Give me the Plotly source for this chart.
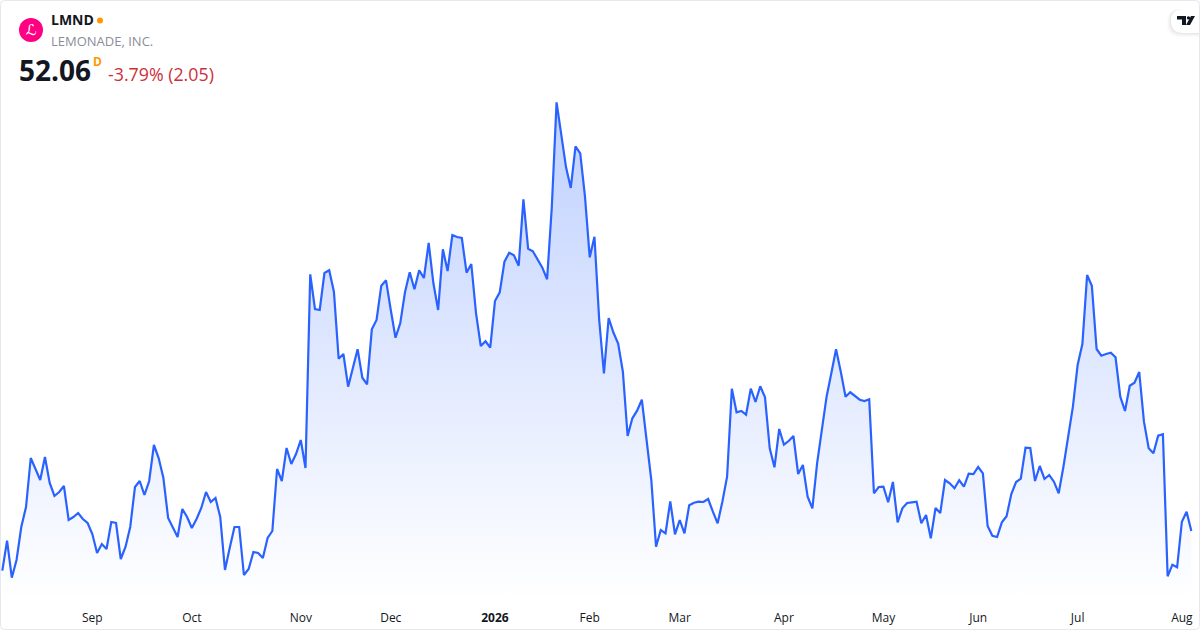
"""LMND daily close, one year, TradingView style area widget."""
import plotly.graph_objects as go

WIDTH = 1200
HEIGHT = 630
AXIS_PX = 600  # pixel row of the bottom of the plot area

prices = [
    48.09, 51.09, 47.39, 49.16, 52.46, 54.46, 59.36, 58.26, 57.16, 59.46,
    56.86, 55.56, 55.96, 56.56, 53.16, 53.46, 53.86, 53.26, 52.86, 51.76,
    49.86, 50.76, 50.26, 52.96, 52.86, 49.26, 50.46, 52.46, 56.46, 57.06,
    55.66, 57.06, 60.66, 59.36, 57.36, 53.36, 52.46, 51.46, 54.26, 53.46,
    52.36, 53.26, 54.36, 55.96, 54.96, 55.36, 53.46, 48.16, 50.36, 52.46,
    52.46, 47.66, 48.26, 49.96, 49.86, 49.36, 51.36, 52.06, 58.26, 57.06,
    60.36, 58.76, 59.76, 61.16, 58.36, 77.73, 74.26, 74.16, 77.86, 78.13,
    75.99, 69.29, 69.76, 66.49, 68.36, 70.23, 67.39, 66.73, 72.23, 73.16,
    76.59, 77.13, 74.16, 71.39, 72.83, 75.93, 77.93, 76.23, 78.13, 77.36,
    80.86, 76.83, 74.16, 80.23, 78.06, 81.66, 81.46, 81.36, 77.89, 78.76,
    73.83, 70.56, 71.03, 70.39, 75.06, 75.93, 78.99, 79.89, 79.63, 78.59,
    85.23, 80.29, 80.03, 79.16, 78.39, 77.23, 84.49, 94.93, 91.66, 88.43,
    86.36, 90.53, 89.83, 85.49, 79.43, 81.49, 73.16, 67.81, 73.36, 71.91,
    70.81, 67.99, 61.56, 63.33, 64.09, 65.19, 61.16, 57.16, 50.49, 52.16,
    51.83, 55.03, 51.73, 53.16, 51.83, 54.63, 54.89, 54.99, 54.96, 55.26,
    53.99, 52.83, 54.99, 57.49, 66.29, 63.93, 64.06, 63.69, 66.29, 64.96,
    66.53, 65.43, 60.33, 58.43, 62.26, 60.69, 61.06, 61.56, 57.76, 58.66,
    55.49, 54.33, 58.83, 62.33, 65.49, 67.83, 70.23, 67.99, 65.49, 65.93,
    65.56, 65.19, 65.06, 65.23, 55.83, 56.46, 56.49, 54.93, 56.96, 52.93,
    54.33, 54.86, 54.93, 54.99, 52.83, 53.66, 51.33, 54.36, 53.86, 57.16,
    56.83, 56.33, 57.13, 56.49, 57.79, 57.76, 58.46, 57.83, 52.56, 51.59,
    51.46, 52.93, 53.53, 55.76, 56.96, 57.29, 60.39, 60.36, 57.06, 58.56,
    57.26, 57.66, 56.99, 55.83, 58.49, 61.49, 64.49, 68.66, 70.76, 77.66,
    76.59, 70.26, 69.59, 69.76, 69.89, 69.43, 65.49, 64.06, 66.59, 66.89,
    67.96, 62.99, 60.33, 59.83, 61.59, 61.73, 47.53, 48.69, 48.43, 52.99,
    53.99, 52.06,
]
sessions = list(range(len(prices)))

tick_sessions = [19, 40, 63, 82, 104, 124, 143, 165, 186, 206, 227, 249]
tick_labels = ["Sep", "Oct", "Nov", "Dec", "<b>2026</b>", "Feb", "Mar", "Apr",
               "May", "Jun", "Jul", "Aug"]

LINE = "#2962ff"
FONT = "Open Sans"


def fx(x):
    return x / WIDTH


def fy(y):
    # pixel row from the top -> paper fraction of the plot area
    return (AXIS_PX - y) / AXIS_PX


def p(x, y):
    return f"{fx(x)},{fy(y)}"


def path(points):
    return "M " + " L ".join(p(x, y) for x, y in points) + " Z"


def pill(x0, y0, x1, y1, r):
    # flat on the right, round on the left
    return (f"M {p(x1, y0)} L {p(x0 + r, y0)} Q {p(x0, y0)} {p(x0, y0 + r)} "
            f"L {p(x0, y1 - r)} Q {p(x0, y1)} {p(x0 + r, y1)} L {p(x1, y1)} Z")


def card(x0, y0, x1, y1, r):
    return (f"M {p(x0 + r, y0)} L {p(x1 - r, y0)} Q {p(x1, y0)} {p(x1, y0 + r)} "
            f"L {p(x1, y1 - r)} Q {p(x1, y1)} {p(x1 - r, y1)} "
            f"L {p(x0 + r, y1)} Q {p(x0, y1)} {p(x0, y1 - r)} "
            f"L {p(x0, y0 + r)} Q {p(x0, y0)} {p(x0 + r, y0)} Z")


def label(x, y, text, size, color, bold=False, anchor="left", family=FONT):
    if bold:
        text = f"<b>{text}</b>"
    return dict(xref="paper", yref="paper", x=fx(x), y=fy(y), text=text,
                showarrow=False, xanchor=anchor, yanchor="middle",
                borderpad=0, borderwidth=0,
                font=dict(family=family, size=size, color=color))


fig = go.Figure()
fig.add_trace(go.Scatter(
    x=sessions, y=prices, mode="lines", hoverinfo="skip",
    line=dict(color=LINE, width=2.2, shape="linear"),
    fill="tozeroy",
    fillgradient=dict(type="vertical", start=45.16, stop=95,
                      colorscale=[[0, "rgba(41,98,255,0.0)"],
                                  [1, "rgba(41,98,255,0.3)"]]),
))

annotations = [
    label(51, 20, "LMND", 14, "#131722", bold=True),
    label(51, 40.5, "LEMONADE, INC.", 13, "#8a8e99"),
    label(19, 70, "52.06", 28, "#131722", bold=True),
    label(93, 61, "D", 12, "#ff9800", bold=True),
    label(108, 74, "-3.79% (2.05)", 17.8, "#cc2f3c"),
    label(31, 30, "ℒ", 15, "#ffffff", anchor="center", family="DejaVu Sans"),
]

shapes = [
    # card border
    dict(type="path", xref="paper", yref="paper", path=card(0.5, 0.5, 1199.5, 629.5, 4),
         line=dict(color="#e6e8ee", width=1), layer="below"),
    # symbol logo and market status dot
    dict(type="circle", xref="paper", yref="paper", x0=fx(19), x1=fx(43),
         y0=fy(42), y1=fy(18), fillcolor="#ff0083", line_width=0),
    dict(type="circle", xref="paper", yref="paper", x0=fx(97), x1=fx(103),
         y0=fy(23.5), y1=fy(17.5), fillcolor="#ff9800", line_width=0),
]

# pill behind the TV mark, with a soft shadow
for grow, alpha in [(4, 0.015), (3, 0.02), (2, 0.025), (1, 0.03)]:
    shapes.append(dict(type="path", xref="paper", yref="paper", line_width=0,
                       path=pill(1171 - grow, 9, 1199, 33 + grow, 12),
                       fillcolor=f"rgba(0,0,0,{alpha})"))
shapes.append(dict(type="path", xref="paper", yref="paper", line_width=0,
                   path=pill(1171, 9, 1199, 33, 12), fillcolor="#ffffff"))
shapes.append(dict(type="path", xref="paper", yref="paper", line_width=0,
                   fillcolor="#131722",
                   path=path([(1177, 16), (1186, 16), (1186, 25), (1182, 25),
                              (1182, 19.5), (1177, 19.5)])))
shapes.append(dict(type="circle", xref="paper", yref="paper", line_width=0,
                   fillcolor="#131722", x0=fx(1186.8), x1=fx(1190.2),
                   y0=fy(19.6), y1=fy(16.2)))
shapes.append(dict(type="path", xref="paper", yref="paper", line_width=0,
                   fillcolor="#131722",
                   path=path([(1191, 16), (1195, 16), (1190, 25), (1186, 25)])))

fig.update_layout(
    width=WIDTH, height=HEIGHT, autosize=False,
    margin=dict(l=0, r=0, t=0, b=HEIGHT - AXIS_PX, pad=0),
    paper_bgcolor="#ffffff", plot_bgcolor="#ffffff",
    showlegend=False,
    annotations=annotations, shapes=shapes,
    xaxis=dict(range=[-0.492, 252.83], tickmode="array",
               tickvals=tick_sessions, ticktext=tick_labels,
               showgrid=False, zeroline=False, showline=False,
               ticks="outside", ticklen=7, tickcolor="rgba(0,0,0,0)",
               tickfont=dict(family=FONT, size=12, color="#131722")),
    yaxis=dict(range=[45.16, 105.16], visible=False, fixedrange=True),
)

fig.write_html("out.html", config=dict(displayModeBar=False),
               post_script="document.body.style.margin='0';")
